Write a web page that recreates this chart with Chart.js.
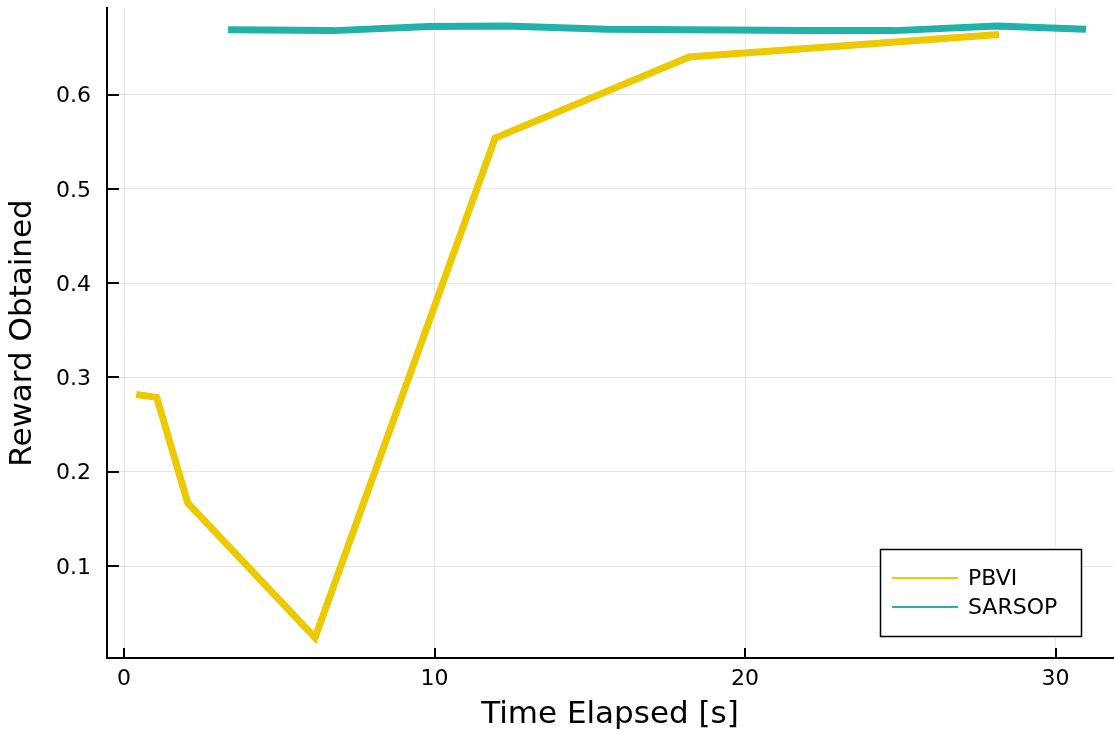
<!DOCTYPE html>
<html>
<head>
<meta charset="utf-8">
<script src="https://cdn.jsdelivr.net/npm/chart.js@4"></script>
<style>
  html, body { margin: 0; padding: 0; background: #fff; }
  canvas { display: block; }
</style>
</head>
<body>
<canvas id="myChart" width="1114" height="732"></canvas>
<script>
// data
const pbviTime = [0.39, 1.05, 2.05, 6.15, 11.95, 18.2, 28.18];
const pbviReward = [0.282, 0.279, 0.167, 0.024, 0.554, 0.640, 0.664];

const sarsopTime = [3.35, 6.75, 9.8, 12.3, 15.55, 22.0, 24.8, 28.1, 30.98];
const sarsopReward = [0.669, 0.668, 0.6725, 0.673, 0.6695, 0.668, 0.668, 0.673, 0.6695];

const xTicks = [0, 10, 20, 30];
const yTicks = [0.1, 0.2, 0.3, 0.4, 0.5, 0.6];

const seriesNames = ['PBVI', 'SARSOP'];
const seriesColors = ['#ECC900', '#20B2AA'];

const FONT = "'DejaVu Sans', sans-serif";

function toPoints(xs, ys) {
  return xs.map((x, i) => ({ x: x, y: ys[i] }));
}

// inward tick marks + legend box, like the GR backend
const juliaBits = {
  id: 'juliaBits',
  afterDraw(chart) {
    const ctx = chart.ctx;
    const area = chart.chartArea;
    const xs = chart.scales.x, ys = chart.scales.y;
    ctx.save();
    ctx.strokeStyle = '#000';
    ctx.lineWidth = 2;
    ctx.beginPath();
    xs.ticks.forEach(t => {
      const px = Math.round(xs.getPixelForValue(t.value));
      ctx.moveTo(px, area.bottom);
      ctx.lineTo(px, area.bottom - 10);
    });
    ys.ticks.forEach(t => {
      const py = Math.round(ys.getPixelForValue(t.value));
      ctx.moveTo(area.left, py);
      ctx.lineTo(area.left + 12, py);
    });
    ctx.stroke();

    // legend
    const bx = 880.5, by = 549.5, bw = 201, bh = 87;
    ctx.fillStyle = '#fff';
    ctx.fillRect(bx, by, bw, bh);
    ctx.lineWidth = 1.5;
    ctx.strokeStyle = '#000';
    ctx.strokeRect(bx, by, bw, bh);
    ctx.font = '22px ' + FONT;
    ctx.textBaseline = 'middle';
    ctx.textAlign = 'left';
    seriesNames.forEach((name, i) => {
      const ly = 578 + i * 29;
      ctx.strokeStyle = seriesColors[i];
      ctx.lineWidth = 2;
      ctx.beginPath();
      ctx.moveTo(892, ly);
      ctx.lineTo(958, ly);
      ctx.stroke();
      ctx.fillStyle = '#000';
      ctx.fillText(name, 968, ly + 1);
    });
    ctx.restore();
  }
};

const data = {
  datasets: [
    {
      label: seriesNames[0],
      data: toPoints(pbviTime, pbviReward),
      borderColor: seriesColors[0],
      backgroundColor: seriesColors[0],
      borderWidth: 7,
      pointRadius: 0,
      borderJoinStyle: 'miter',
      tension: 0,
      order: 2
    },
    {
      label: seriesNames[1],
      data: toPoints(sarsopTime, sarsopReward),
      borderColor: seriesColors[1],
      backgroundColor: seriesColors[1],
      borderWidth: 7,
      pointRadius: 0,
      borderJoinStyle: 'miter',
      tension: 0,
      order: 1
    }
  ]
};

const config = {
  type: 'line',
  data,
  options: {
    responsive: false,
    animation: false,
    layout: { padding: { left: 0, right: 1, top: 8, bottom: 0 } },
    scales: {
      x: {
        type: 'linear',
        min: -0.55,
        max: 31.85,
        afterBuildTicks: s => { s.ticks = xTicks.map(v => ({ value: v })); },
        afterFit: s => { s.height = 74; s.paddingLeft = 0; s.paddingRight = 0; },
        ticks: {
          includeBounds: false,
          color: '#000',
          font: { family: FONT, size: 22 },
          padding: 8,
          maxRotation: 0
        },
        grid: { color: 'rgba(0,0,0,0.1)', lineWidth: 1, drawTicks: false },
        border: { color: '#000', width: 2 },
        title: {
          display: true,
          text: 'Time Elapsed [s]',
          color: '#000',
          font: { family: FONT, size: 31 },
          padding: { top: 0, bottom: -2 }
        }
      },
      y: {
        type: 'linear',
        min: 0.0024,
        max: 0.692,
        afterBuildTicks: s => { s.ticks = yTicks.map(v => ({ value: v })); },
        afterFit: s => { s.width = 107; s.paddingTop = 0; s.paddingBottom = 0; },
        ticks: {
          includeBounds: false,
          color: '#000',
          font: { family: FONT, size: 22 },
          padding: 16,
          labelOffset: 2,
          callback: v => v.toFixed(1)
        },
        grid: { color: 'rgba(0,0,0,0.1)', lineWidth: 1, drawTicks: false },
        border: { color: '#000', width: 2 },
        title: {
          display: true,
          text: 'Reward Obtained',
          color: '#000',
          font: { family: FONT, size: 31 },
          padding: { top: 4, bottom: 0 }
        }
      }
    },
    plugins: {
      legend: { display: false },
      tooltip: { enabled: false }
    }
  },
  plugins: [juliaBits]
};

const myChart = new Chart(document.getElementById('myChart'), config);
</script>
</body>
</html>
